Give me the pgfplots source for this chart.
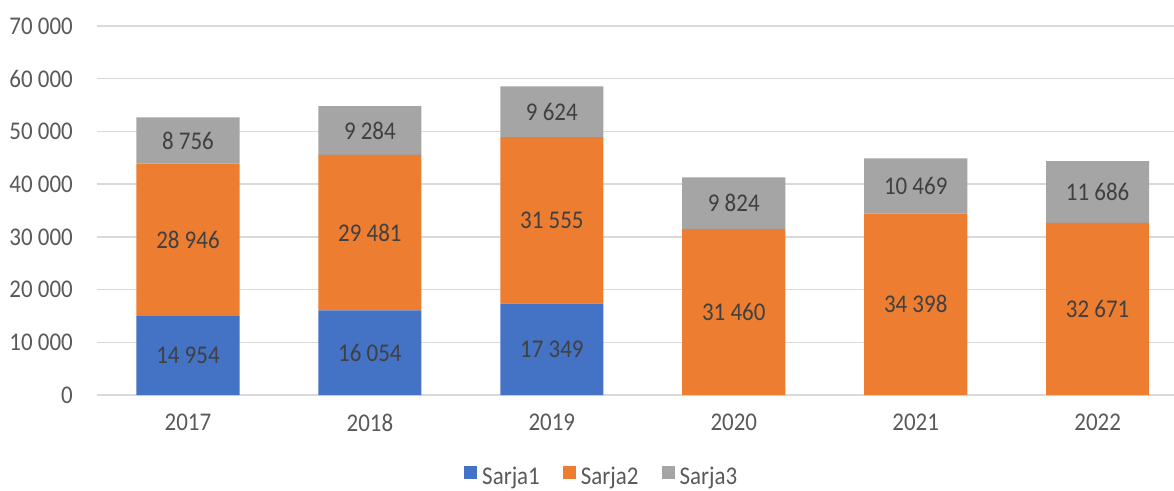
\documentclass[border=0pt]{standalone}
\usepackage{pgfplots}
\pgfplotsset{compat=1.18}
\usepackage{pgfplotstable}
\usepackage{fontspec}
\setmainfont{Carlito}[FakeStretch=0.9]
\definecolor{c1}{HTML}{4472C4}
\definecolor{c2}{HTML}{ED7D31}
\definecolor{c3}{HTML}{A5A5A5}
\definecolor{gridc}{HTML}{D9D9D9}
\definecolor{tickc}{HTML}{595959}
\definecolor{labc}{HTML}{404040}
\pgfplotstableread{
x s1 s2 s3 z op
0 14954 28946 8756 0 0
1 16054 29481 9284 0 0
2 17349 31555 9624 0 0
3 0 31460 9824 0 1
4 0 34398 10469 0 1
5 0 32671 11686 0 1
}\data
\pgfplotsset{
  seglabel/.style={
    nodes near coords,
    point meta=explicit,
    every node near coord/.style={anchor=center, text=labc, inner sep=0pt},
  }
}
\begin{document}
\fontsize{25.5}{29}\selectfont
\begin{tikzpicture}
\begin{axis}[
  name=ax,
  scale only axis,
  width=1077pt, height=369pt,
  xmin=-0.5, xmax=5.42,
  ymin=0, ymax=70000,
  clip=false,
  ytick={0,10000,...,70000},
  xtick={0,...,5},
  xticklabels={2017,2018,2019,2020,2021,2022},
  ymajorgrids, grid style={gridc, line width=1.3pt},
  axis line style={draw=none},
  major tick length=0pt,
  scaled y ticks=false,
  /pgf/number format/fixed,
  /pgf/number format/1000 sep={\ },
  /pgf/number format/assume math mode=true,
  yticklabel style={anchor=east, inner sep=0pt, xshift=-24pt, text=tickc},
  xticklabel style={anchor=north, inner sep=0pt, yshift=-19pt, text=tickc},
  ybar stacked, bar width=0.567,
  legend columns=3,
  legend style={at={(0.47,0)}, anchor=center, yshift=-83pt, draw=none, fill=none, text=tickc,
    nodes={inner xsep=5pt},
    /tikz/every even column/.append style={column sep=18pt}},
  legend image code/.code={\fill[#1] (0pt,-1pt) rectangle (13pt,12pt);},
]
\addplot[forget plot, sharp plot, draw=none, mark=none,
  nodes near coords, point meta=explicit,
  visualization depends on={\thisrow{op} \as \op},
  every node near coord/.style={anchor=center, text=labc, inner sep=0pt, text opacity=\op}]
  table[x=x, y=z, meta=z] {\data};
\addplot[fill=c1, draw=none, seglabel] table[x=x, y=s1, meta=s1] {\data};
\addplot[fill=c2, draw=none, seglabel] table[x=x, y=s2, meta=s2] {\data};
\addplot[fill=c3, draw=none, seglabel] table[x=x, y=s3, meta=s3] {\data};
\legend{Sarja1, Sarja2, Sarja3}
\end{axis}
\pgfresetboundingbox
\path (ax.south west) ++(-97pt,-95pt) rectangle ++(1174pt,490pt);
\end{tikzpicture}
\end{document}
